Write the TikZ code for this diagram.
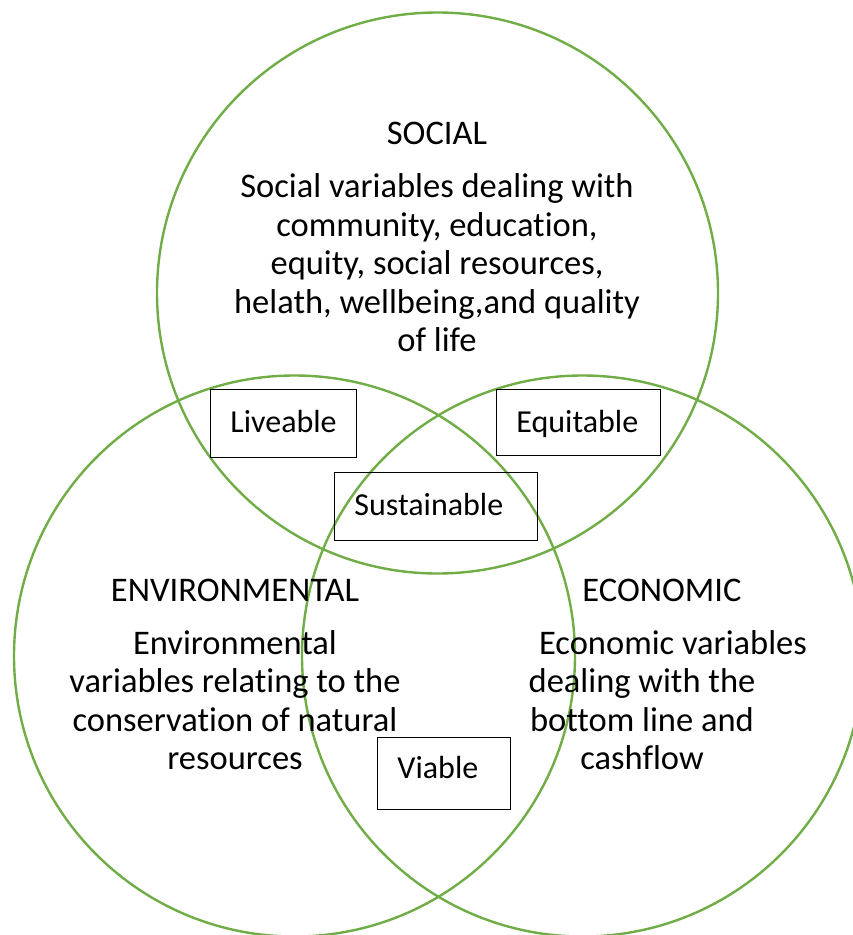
\documentclass[tikz,border=0pt]{standalone}
\usepackage{fontspec}
\setmainfont{Carlito}[Ligatures=CommonOff]
\definecolor{ringgreen}{HTML}{70AD47}

\begin{document}
\begin{tikzpicture}[x=1pt,y=-1pt,
    ring/.style={draw=ringgreen, line width=2.4pt},
    head/.style={font=\fontsize{34.5}{38}\selectfont},
    body/.style={align=center, font=\fontsize{34.5}{38.5}\selectfont},
    tag/.style={draw=black, line width=0.8pt, anchor=north west, align=left,
        inner xsep=20pt, inner ysep=0pt, text height=43pt,
        font=\fontsize{32}{36}\selectfont}]
    \useasboundingbox (0,0) rectangle (853,935);

    % the three rings
    \draw[ring] (437.5,293) circle (280.5pt);
    \draw[ring] (294.5,656) circle (280.5pt);
    \draw[ring] (582.5,656) circle (280.5pt);

    % social ring
    \node[head] (socialhead) at (437,133) {SOCIAL};
    \node[body] (socialtext) at (437,263) {Social variables dealing with\\community, education,\\equity, social resources,\\helath, wellbeing,and quality\\of life};

    % environmental ring
    \node[head] (envhead) at (235,590) {ENVIRONMENTAL};
    \node[body] (envtext) at (235,700) {Environmental\\variables relating to the\\conservation of natural\\resources};

    % economic ring
    \node[head] (ecohead) at (662,590) {ECONOMIC};
    \node[body] (ecotext) at (642,700) {\hspace*{62pt}Economic variables\\dealing with the\\bottom line and\\cashflow};

    % overlaps
    \node[tag, text width=106pt, text depth=25pt] (liveable) at (210,389) {Liveable};
    \node[tag, text width=124pt, text depth=23pt] (equitable) at (496,389) {Equitable};
    \node[tag, text width=163pt, text depth=25pt] (sustainable) at (334,472) {Sustainable};
    \node[tag, text width=93pt, text height=41pt, text depth=31pt] (viable) at (377,737) {Viable};
\end{tikzpicture}
\end{document}
